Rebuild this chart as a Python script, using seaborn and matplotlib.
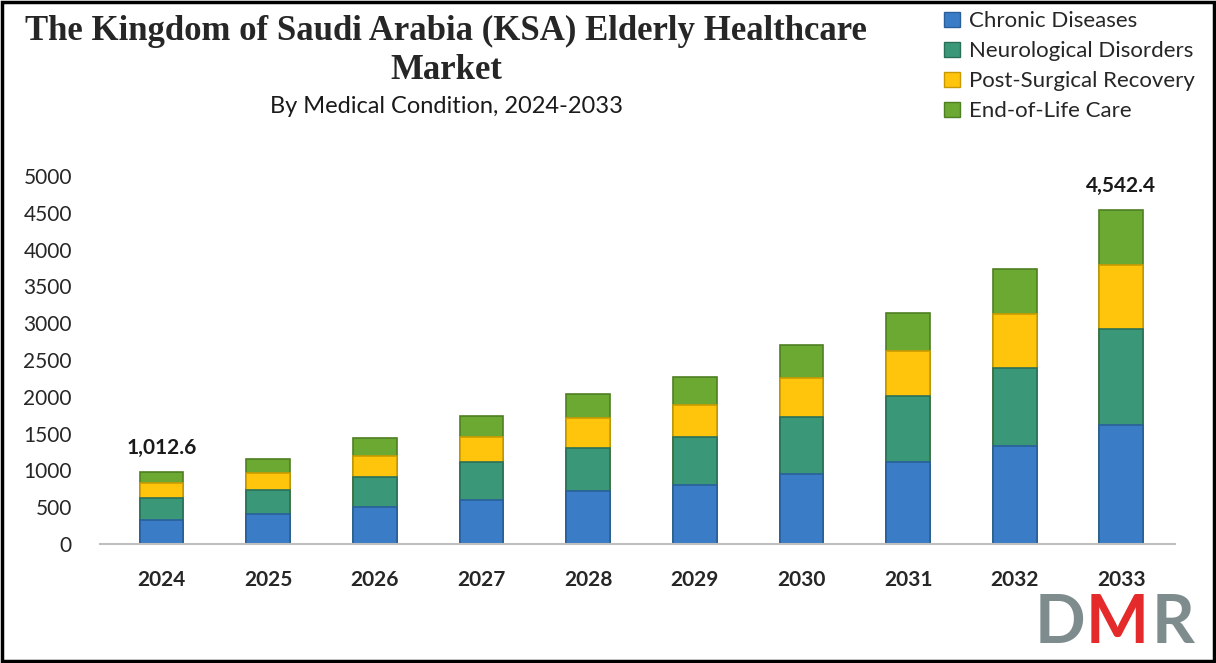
import matplotlib.pyplot as plt
import matplotlib.patches as mpatches
import numpy as np
import pandas as pd
import seaborn as sns

# --- data ---
years = ["2024", "2025", "2026", "2027", "2028", "2029", "2030", "2031", "2032", "2033"]
chronic = [330, 408, 507, 602, 720, 802, 951, 1114, 1336, 1620]
neuro = [290, 326, 408, 508, 588, 656, 779, 897, 1051, 1297]
post_surgical = [215, 235, 281, 348, 400, 431, 525, 616, 734, 870]
end_of_life = [150, 182, 240, 277, 326, 376, 445, 507, 620, 755.4]
total_labels = {"2024": "1,012.6", "2033": "4,542.4"}

series_names = ["Chronic Diseases", "Neurological Disorders", "Post-Surgical Recovery", "End-of-Life Care"]
COLORS = {
    "Chronic Diseases": "#3A7DC6",
    "Neurological Disorders": "#3A9878",
    "Post-Surgical Recovery": "#FFC50D",
    "End-of-Life Care": "#6BA932",
}
EDGES = {
    "Chronic Diseases": "#2A5F9A",
    "Neurological Disorders": "#2A7058",
    "Post-Surgical Recovery": "#C99A00",
    "End-of-Life Care": "#4E7F22",
}

df = pd.DataFrame({
    "year": years,
    "Chronic Diseases": chronic,
    "Neurological Disorders": neuro,
    "Post-Surgical Recovery": post_surgical,
    "End-of-Life Care": end_of_life,
})
# cumulative tops for stacking
cum = df[series_names].cumsum(axis=1)
cum["year"] = df["year"]

sns.set_style("white")
plt.rcParams["font.family"] = ["Lato", "DejaVu Sans"]

fig = plt.figure(figsize=(12.16, 6.63), dpi=100)
ax = fig.add_axes([0.082, 0.1795, 0.884, 0.555])

# draw tallest first so lower segments sit on top
for name in reversed(series_names):
    sns.barplot(
        data=cum, x="year", y=name, ax=ax,
        color=COLORS[name], edgecolor=EDGES[name], linewidth=1.2,
        width=0.41, saturation=1, errorbar=None,
    )

ax.set_ylim(0, 5000)
ax.set_xlim(-0.58, 9.5)
ax.set_yticks(np.arange(0, 5001, 500))
ax.set_xlabel("")
ax.set_ylabel("")
ax.tick_params(axis="y", length=0, labelsize=15, pad=20)
ax.tick_params(axis="x", length=0, labelsize=15, pad=19)
for lbl in ax.get_xticklabels():
    lbl.set_fontweight("bold")

sns.despine(ax=ax, left=True, top=True, right=True)
ax.spines["bottom"].set_color("#BFBFBF")
ax.spines["bottom"].set_linewidth(1.5)

# total labels
totals = cum["End-of-Life Care"].values
for i, y in enumerate(years):
    if y in total_labels:
        ax.text(i, totals[i] + 190, total_labels[y], ha="center", va="bottom",
                fontsize=15, fontweight="bold", color="#1a1a1a", clip_on=False)

# titles
fig.text(0.367, 0.952, "The Kingdom of Saudi Arabia (KSA) Elderly Healthcare",
         ha="center", va="center", fontsize=25, fontweight="bold",
         family=["Liberation Serif", "DejaVu Serif"])
fig.text(0.367, 0.893, "Market", ha="center", va="center", fontsize=25,
         fontweight="bold", family=["Liberation Serif", "DejaVu Serif"])
fig.text(0.367, 0.84, "By Medical Condition, 2024-2033", ha="center",
         va="center", fontsize=17, color="#1a1a1a")

# legend
handles = [mpatches.Patch(facecolor=COLORS[n], edgecolor=EDGES[n], label=n)
           for n in series_names]
fig.legend(handles=handles, loc="upper left", bbox_to_anchor=(0.76, 1.013),
           frameon=False, fontsize=16, handlelength=0.7, handleheight=0.7,
           handletextpad=0.4, labelspacing=0.45)

# logo
for x0, letter, col in [(0.851, "D", "#7F8C8D"), (0.893, "M", "#E42A2A"), (0.947, "R", "#7F8C8D")]:
    fig.text(x0, 0.012, letter, ha="left", va="bottom", fontsize=48,
             fontweight="bold", color=col)

# outer frame
fig.patches.append(mpatches.Rectangle((0.002, 0.003), 0.996, 0.994,
                                      transform=fig.transFigure, fill=False,
                                      edgecolor="black", linewidth=2.5))

fig.savefig("out.png", dpi=100)
